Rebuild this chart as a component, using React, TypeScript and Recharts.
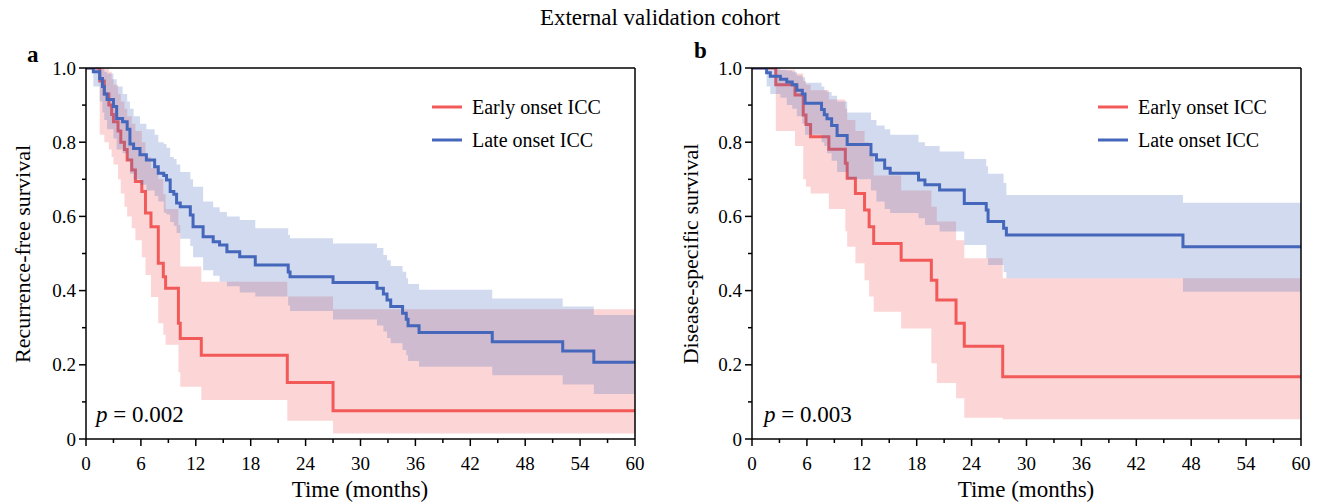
import React from 'react';
import { ComposedChart, Line, Area, XAxis, YAxis, ReferenceLine } from 'recharts';

const FONT = '"Liberation Serif", "Times New Roman", serif';
const RED = '#F25A5A';
const BLUE = '#4466BB';

// ---------- Panel a : Recurrence-free survival ----------
const aEarlyTime = [0, 1.5, 2.0, 2.5, 2.8, 3.0, 3.5, 3.8, 4.2, 4.5, 5.0, 5.4, 6.1, 6.5, 7.1, 7.9, 8.45, 8.7, 10.1, 10.3, 12.6, 22.0, 27.0, 60];
const aEarlySurv = [1.0, 0.965, 0.93, 0.9, 0.875, 0.855, 0.83, 0.8, 0.78, 0.752, 0.725, 0.694, 0.667, 0.609, 0.572, 0.474, 0.437, 0.406, 0.312, 0.271, 0.226, 0.152, 0.076, 0.076];
const aEarlyLow = [1.0, 0.82, 0.8, 0.78, 0.76, 0.74, 0.7, 0.662, 0.626, 0.6, 0.568, 0.536, 0.49, 0.442, 0.383, 0.312, 0.281, 0.254, 0.18, 0.141, 0.105, 0.049, 0.015, 0.015];
const aEarlyHigh = [1.0, 1.0, 1.0, 0.99, 0.97, 0.955, 0.93, 0.91, 0.89, 0.87, 0.85, 0.83, 0.8, 0.76, 0.73, 0.7, 0.66, 0.62, 0.577, 0.465, 0.424, 0.384, 0.35, 0.35];

const aLateTime = [0, 0.8, 1.5, 1.8, 2.0, 2.3, 3.0, 3.35, 4.0, 4.5, 4.8, 5.2, 5.9, 6.6, 7.5, 7.9, 8.5, 8.8, 9.2, 9.6, 9.9, 10.3, 11.4, 11.7, 12.8, 13.9, 14.6, 15.4, 16.8, 18.5, 22.1, 22.3, 27.0, 31.8, 32.5, 32.9, 33.3, 34.6, 35.0, 35.2, 36.4, 44.4, 52.1, 55.5, 60];
const aLateSurv = [1.0, 0.99, 0.972, 0.95, 0.93, 0.915, 0.896, 0.864, 0.855, 0.835, 0.795, 0.783, 0.766, 0.752, 0.734, 0.716, 0.71, 0.698, 0.667, 0.66, 0.636, 0.626, 0.604, 0.572, 0.545, 0.532, 0.523, 0.505, 0.491, 0.469, 0.45, 0.437, 0.422, 0.406, 0.391, 0.375, 0.357, 0.339, 0.323, 0.305, 0.287, 0.262, 0.237, 0.207, 0.207];
const aLateLow = [1.0, 0.95, 0.91, 0.88, 0.86, 0.835, 0.81, 0.78, 0.77, 0.75, 0.715, 0.7, 0.685, 0.67, 0.655, 0.64, 0.61, 0.605, 0.585, 0.575, 0.555, 0.54, 0.52, 0.49, 0.455, 0.44, 0.424, 0.412, 0.395, 0.384, 0.36, 0.345, 0.322, 0.306, 0.29, 0.272, 0.258, 0.24, 0.226, 0.21, 0.195, 0.172, 0.147, 0.121, 0.121];
const aLateHigh = [1.0, 1.0, 1.0, 1.0, 0.99, 0.985, 0.97, 0.95, 0.93, 0.91, 0.89, 0.87, 0.85, 0.835, 0.82, 0.8, 0.795, 0.785, 0.76, 0.755, 0.74, 0.72, 0.7, 0.68, 0.64, 0.625, 0.612, 0.6, 0.59, 0.568, 0.55, 0.541, 0.527, 0.515, 0.496, 0.482, 0.466, 0.451, 0.433, 0.418, 0.402, 0.379, 0.357, 0.334, 0.334];

// ---------- Panel b : Disease-specific survival ----------
const bEarlyTime = [0, 2.6, 4.7, 5.6, 5.9, 6.4, 8.4, 10.2, 10.4, 11.3, 12.3, 12.8, 13.3, 16.3, 19.6, 20.2, 22.3, 23.2, 27.4, 60];
const bEarlySurv = [1.0, 0.955, 0.927, 0.873, 0.848, 0.815, 0.781, 0.743, 0.703, 0.662, 0.617, 0.572, 0.527, 0.482, 0.428, 0.375, 0.312, 0.25, 0.168, 0.168];
const bEarlyLow = [1.0, 0.83, 0.79, 0.7, 0.68, 0.662, 0.62, 0.56, 0.518, 0.474, 0.428, 0.384, 0.343, 0.298, 0.204, 0.151, 0.11, 0.057, 0.053, 0.053];
const bEarlyHigh = [1.0, 0.995, 0.985, 0.965, 0.955, 0.94, 0.915, 0.89, 0.86, 0.83, 0.8, 0.77, 0.71, 0.67, 0.626, 0.586, 0.536, 0.487, 0.433, 0.433];

const bLateTime = [0, 1.6, 2.0, 3.1, 3.8, 4.4, 4.9, 5.5, 5.8, 7.6, 7.9, 8.2, 8.7, 9.3, 10.4, 13.0, 13.6, 14.5, 15.1, 18.2, 18.9, 20.5, 23.2, 25.6, 25.8, 27.5, 27.8, 47.1, 60];
const bLateSurv = [1.0, 0.987, 0.978, 0.97, 0.962, 0.955, 0.94, 0.93, 0.905, 0.888, 0.874, 0.863, 0.845, 0.818, 0.794, 0.766, 0.752, 0.73, 0.716, 0.698, 0.685, 0.671, 0.635, 0.617, 0.586, 0.568, 0.55, 0.518, 0.518];
const bLateLow = [1.0, 0.95, 0.93, 0.92, 0.9, 0.89, 0.87, 0.85, 0.82, 0.8, 0.79, 0.77, 0.75, 0.72, 0.7, 0.67, 0.64, 0.62, 0.609, 0.595, 0.577, 0.559, 0.523, 0.487, 0.469, 0.45, 0.433, 0.397, 0.397];
const bLateHigh = [1.0, 1.0, 1.0, 0.995, 0.993, 0.99, 0.98, 0.975, 0.96, 0.95, 0.94, 0.935, 0.925, 0.91, 0.88, 0.86, 0.845, 0.835, 0.82, 0.8, 0.79, 0.775, 0.755, 0.735, 0.715, 0.69, 0.658, 0.637, 0.637];

const xTicks = [0, 3, 6, 9, 12, 15, 18, 21, 24, 27, 30, 33, 36, 39, 42, 45, 48, 51, 54, 57, 60];
const yTicks = [0, 0.1, 0.2, 0.3, 0.4, 0.5, 0.6, 0.7, 0.8, 0.9, 1.0];

const TITLE = 'External validation cohort';
const LEGEND_EARLY = 'Early onset ICC';
const LEGEND_LATE = 'Late onset ICC';
const X_LABEL = 'Time (months)';

type Row = { t: number; s: number; ci: [number, number] };
function build(times: number[], surv: number[], lo: number[], hi: number[]): Row[] {
  return times.map((t, i) => ({ t, s: surv[i], ci: [lo[i], hi[i]] }));
}

const YTick = (props: any) => {
  const { x, y, payload } = props;
  const v = payload.value as number;
  const major = Math.round(v * 10) % 2 === 0;
  const label = v === 0 ? '0' : v.toFixed(1);
  return (
    <g>
      <line x1={x} x2={x - (major ? 7 : 4)} y1={y} y2={y} stroke="#000" strokeWidth={1.5} />
      {major && (
        <text x={x - 10} y={y + 6.5} textAnchor="end" fontFamily={FONT} fontSize={19} fill="#000">
          {label}
        </text>
      )}
    </g>
  );
};

const XTick = (props: any) => {
  const { x, y, payload } = props;
  const v = payload.value as number;
  const major = v % 6 === 0;
  return (
    <g>
      <line x1={x} x2={x} y1={y} y2={y + (major ? 7 : 4)} stroke="#000" strokeWidth={1.5} />
      {major && (
        <text x={x} y={y + 31} textAnchor="middle" fontFamily={FONT} fontSize={19} fill="#000">
          {String(v)}
        </text>
      )}
    </g>
  );
};

type PanelProps = { left: number; width: number; early: Row[]; late: Row[] };

const Panel = ({ left, width, early, late }: PanelProps) => (
  <div style={{ position: 'absolute', left, top: 0 }}>
    <ComposedChart width={width} height={502} margin={{ top: 68, right: width - 635, bottom: 33, left: 36 }}>
      <XAxis
        type="number"
        dataKey="t"
        domain={[0, 60]}
        allowDataOverflow
        ticks={xTicks}
        interval={0}
        height={30}
        tickSize={0}
        tickMargin={0}
        tickLine={false}
        axisLine={{ stroke: '#000', strokeWidth: 1.5 }}
        tick={<XTick />}
      />
      <YAxis
        type="number"
        domain={[0, 1]}
        allowDataOverflow
        ticks={yTicks}
        interval={0}
        width={50}
        tickSize={0}
        tickMargin={0}
        tickLine={false}
        axisLine={{ stroke: '#000', strokeWidth: 1.5 }}
        tick={<YTick />}
      />
      <Area data={early} dataKey="ci" type="stepAfter" stroke="none" fill={RED} fillOpacity={0.25} isAnimationActive={false} zIndex={100} />
      <Line data={early} dataKey="s" type="stepAfter" stroke={RED} strokeWidth={3} dot={false} activeDot={false} isAnimationActive={false} zIndex={101} />
      <Area data={late} dataKey="ci" type="stepAfter" stroke="none" fill={BLUE} fillOpacity={0.24} isAnimationActive={false} zIndex={102} />
      <Line data={late} dataKey="s" type="stepAfter" stroke={BLUE} strokeWidth={3} dot={false} activeDot={false} isAnimationActive={false} zIndex={103} />
      <ReferenceLine y={1} stroke="#000" strokeWidth={1.5} zIndex={200} />
      <ReferenceLine x={60} stroke="#000" strokeWidth={1.5} zIndex={200} />
    </ComposedChart>
  </div>
);

const Legend = ({ x0 }: { x0: number }) => (
  <g>
    <line x1={x0 + 346} x2={x0 + 376} y1={107} y2={107} stroke={RED} strokeWidth={3} />
    <text x={x0 + 386} y={114} fontFamily={FONT} fontSize={20} fill="#000">{LEGEND_EARLY}</text>
    <line x1={x0 + 346} x2={x0 + 376} y1={140} y2={140} stroke={BLUE} strokeWidth={3} />
    <text x={x0 + 386} y={147} fontFamily={FONT} fontSize={20} fill="#000">{LEGEND_LATE}</text>
  </g>
);

export default function App() {
  const aEarly = build(aEarlyTime, aEarlySurv, aEarlyLow, aEarlyHigh);
  const aLate = build(aLateTime, aLateSurv, aLateLow, aLateHigh);
  const bEarly = build(bEarlyTime, bEarlySurv, bEarlyLow, bEarlyHigh);
  const bLate = build(bLateTime, bLateSurv, bLateLow, bLateHigh);
  return (
    <div style={{ position: 'absolute', left: 0, top: 0, width: 1320, height: 502, background: '#fff', overflow: 'hidden' }}>
      <Panel left={0} width={660} early={aEarly} late={aLate} />
      <Panel left={666} width={654} early={bEarly} late={bLate} />
      <svg width={1320} height={502} style={{ position: 'absolute', left: 0, top: 0, pointerEvents: 'none' }}>
        <text x={660} y={25} textAnchor="middle" fontFamily={FONT} fontSize={23} fill="#000">{TITLE}</text>
        <text x={27} y={62} fontFamily={FONT} fontSize={23} fontWeight="bold" fill="#000">a</text>
        <text x={694} y={58} fontFamily={FONT} fontSize={23} fontWeight="bold" fill="#000">b</text>
        <text x={22} y={254} textAnchor="middle" dominantBaseline="central" transform="rotate(-90 22 254)" fontFamily={FONT} fontSize={22} fill="#000">Recurrence-free survival</text>
        <text x={690} y={254} textAnchor="middle" dominantBaseline="central" transform="rotate(-90 690 254)" fontFamily={FONT} fontSize={22} fill="#000">Disease-specific survival</text>
        <text x={360} y={497} textAnchor="middle" fontFamily={FONT} fontSize={23} fill="#000">{X_LABEL}</text>
        <text x={1026} y={497} textAnchor="middle" fontFamily={FONT} fontSize={23} fill="#000">{X_LABEL}</text>
        <Legend x0={86} />
        <Legend x0={752} />
        <text x={96} y={422} fontFamily={FONT} fontSize={23} fill="#000"><tspan fontStyle="italic">p</tspan> = 0.002</text>
        <text x={764} y={422} fontFamily={FONT} fontSize={23} fill="#000"><tspan fontStyle="italic">p</tspan> = 0.003</text>
      </svg>
    </div>
  );
}
